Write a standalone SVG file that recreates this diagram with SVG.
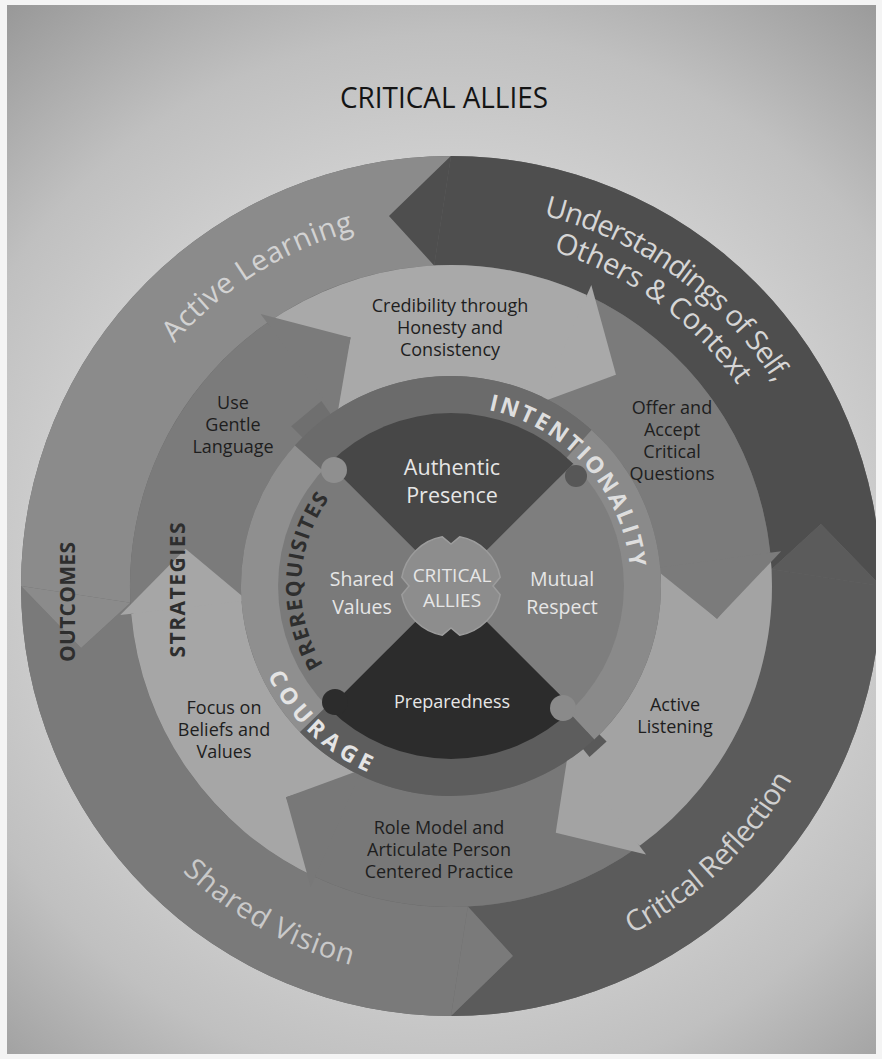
<svg xmlns="http://www.w3.org/2000/svg" width="882" height="1059" viewBox="0 0 882 1059">
<defs>
<radialGradient id="bg" gradientUnits="userSpaceOnUse" cx="451" cy="560" r="730">
<stop offset="0.5" stop-color="#d2d2d2"/>
<stop offset="0.72" stop-color="#c0c0c0"/>
<stop offset="1" stop-color="#949494"/>
</radialGradient>
<path id="pAL" d="M 132.3,402.0 A 368 368 0 0 1 425.3,218.9"/>
<path id="pU1" d="M 490.9,206.1 A 382 382 0 0 1 800.0,430.6"/>
<path id="pU2" d="M 487.6,237.9 A 350 350 0 0 1 770.7,443.6"/>
<path id="pCR" d="M 545.8,966.4 A 392 392 0 0 0 827.8,694.1"/>
<path id="pSV" d="M 115.0,787.9 A 392 392 0 0 0 457.8,977.9"/>
<path id="pINT" d="M 476.1,407.8 A 180 180 0 0 1 630.9,579.7"/>
<path id="pPRE" d="M 326.6,669.9 A 150 150 0 0 1 332.8,493.7"/>
<path id="pCOU" d="M 259.3,655.8 A 204 204 0 0 0 388.0,780.0"/>
</defs>
<style>
text { font-family: "Open Sans", "Noto Sans", "DejaVu Sans", sans-serif; }
.lbl { fill: #1e1e1e; font-size: 18px; text-anchor: middle; }
.inn { fill: #e6e6e6; text-anchor: middle; }
.ring { font-size: 29px; text-anchor: middle; }
.bold { font-weight: bold; }
.dark { fill: #2e2e2e; }
</style>
<rect x="0" y="0" width="882" height="1059" fill="#f4f4f4"/>
<rect x="7" y="5" width="869" height="1049" fill="url(#bg)"/>
<text x="444" y="108" font-size="29" fill="#141414" text-anchor="middle" textLength="208" lengthAdjust="spacingAndGlyphs">CRITICAL ALLIES</text>

<circle cx="451" cy="586" r="430" fill="#6a6a6a"/>

<g id="outcomes-ring">
<g id="node-understandings">
<path d="M 881,586 A 430 430 0 0 0 451,156 L 434.2,265.4 A 321 321 0 0 1 771.6,569.2 L 820.9,524.1 Z" fill="#4e4e4e"/>
</g>
<g id="node-active-learning">
<path d="M 451,156 A 430 430 0 0 0 21,586 L 130.4,602.8 A 321 321 0 0 1 434.2,265.4 L 389.1,216.1 Z" fill="#8b8b8b"/>
</g>
<g id="node-shared-vision">
<path d="M 21,586 A 430 430 0 0 0 451,1016 L 467.8,906.6 A 321 321 0 0 1 130.4,602.8 L 81.1,647.9 Z" fill="#7a7a7a"/>
</g>
<g id="node-critical-reflection">
<path d="M 451,1016 A 430 430 0 0 0 881,586 L 771.6,569.2 A 321 321 0 0 1 467.8,906.6 L 512.9,955.9 Z" fill="#5b5b5b"/>
</g>
<g id="outcome-heads">
<polygon points="451,156 389.1,216.1 434.2,265.4" fill="#4e4e4e"/>
<polygon points="21,586 81.1,647.9 130.4,602.8" fill="#8b8b8b"/>
<polygon points="451,1016 512.9,955.9 467.8,906.6" fill="#7a7a7a"/>
<polygon points="881,586 820.9,524.1 771.6,569.2" fill="#5b5b5b"/>
</g>
</g>

<g id="strategies-ring">
<g id="node-credibility"><path d="M 266.9,323.1 A 321 321 0 0 1 586.7,295.1 L 576.8,349.4 L 543.1,397.3 A 210 210 0 0 0 333.6,411.9 L 350.6,337.5 Z" fill="#a9a9a9"/></g>
<g id="node-offer"><path d="M 586.7,295.1 A 321 321 0 0 1 770.2,552.4 L 718.6,572.0 L 660.2,567.7 A 210 210 0 0 0 543.1,397.3 L 616.0,374.8 Z" fill="#7b7b7b"/></g>
<g id="node-active-listening"><path d="M 770.2,552.4 A 321 321 0 0 1 639.7,845.7 L 597.0,810.8 L 571.5,758.0 A 210 210 0 0 0 660.2,567.7 L 717.0,618.7 Z" fill="#a3a3a3"/></g>
<g id="node-role-model"><path d="M 639.7,845.7 A 321 321 0 0 1 315.3,876.9 L 325.2,822.6 L 358.9,774.7 A 210 210 0 0 0 571.5,758.0 L 555.7,832.7 Z" fill="#787878"/></g>
<g id="node-focus"><path d="M 315.3,876.9 A 321 321 0 0 1 131.2,614.0 L 183.2,595.4 L 241.5,600.6 A 210 210 0 0 0 358.9,774.7 L 286.0,797.2 Z" fill="#a6a6a6"/></g>
<g id="node-gentle"><path d="M 131.2,614.0 A 321 321 0 0 1 266.9,323.1 L 309.0,358.7 L 333.6,411.9 A 210 210 0 0 0 241.5,600.6 L 185.6,548.7 Z" fill="#7b7b7b"/></g>
<g id="strategy-heads">
<polygon points="591.3,285.1 616.0,374.8 540.4,402.6" fill="#a9a9a9"/>
<polygon points="781.2,551.3 717.0,618.7 654.2,568.2" fill="#7b7b7b"/>
<polygon points="646.1,854.6 555.7,832.7 568.0,753.1" fill="#a3a3a3"/>
<polygon points="310.7,886.9 286.0,797.2 361.6,769.4" fill="#787878"/>
<polygon points="120.3,614.9 185.6,548.7 247.5,600.6" fill="#a6a6a6"/>
<polygon points="260.6,314.0 350.6,337.5 336.9,416.9" fill="#7b7b7b"/>
</g>
</g>

<g id="inner-ring">
<polygon points="291.2,426.2 321.4,400.9 333.4,418.1 306.0,441.0" fill="#6f6f6f"/>
<polygon points="592.4,727.4 606.6,741.6 589.5,757.0 576.9,741.4" fill="#595959"/>
<g id="node-intentionality">
<path d="M 294.9,445.5 A 210 210 0 0 1 591.5,429.9 L 566.1,458.2 A 172 172 0 0 0 323.2,470.9 Z" fill="#6b6b6b"/>
<path d="M 591.5,429.9 A 210 210 0 0 1 594.2,739.6 L 568.3,711.8 A 172 172 0 0 0 566.1,458.2 Z" fill="#8a8a8a"/>
</g>
<g id="node-courage">
<path d="M 594.2,739.6 A 210 210 0 0 1 299.9,731.9 L 327.3,705.5 A 172 172 0 0 0 568.3,711.8 Z" fill="#5d5d5d"/>
</g>
<g id="node-prerequisites">
<path d="M 299.9,731.9 A 210 210 0 0 1 294.9,445.5 L 323.2,470.9 A 172 172 0 0 0 327.3,705.5 Z" fill="#8f8f8f"/>
</g>
</g>

<g id="core">
<g id="node-authentic"><path d="M 451,586 L 328.7,463.7 A 173 173 0 0 1 573.3,463.7 Z" fill="#474747"/></g>
<g id="node-mutual"><path d="M 451,586 L 573.3,463.7 A 173 173 0 0 1 573.3,708.3 Z" fill="#7e7e7e"/></g>
<g id="node-preparedness"><path d="M 451,586 L 573.3,708.3 A 173 173 0 0 1 328.7,708.3 Z" fill="#2c2c2c"/></g>
<g id="node-shared-values"><path d="M 451,586 L 328.7,708.3 A 173 173 0 0 1 328.7,463.7 Z" fill="#7a7a7a"/></g>
<circle cx="334" cy="470" r="13" fill="#8f8f8f"/>
<circle cx="563" cy="708" r="13" fill="#8a8a8a"/>
<circle cx="335" cy="702" r="13" fill="#2c2c2c"/>
<circle cx="576" cy="476" r="11" fill="#575757"/>
<g id="node-center">
<path d="M 459.7,536.8 A 50 50 0 0 1 500.2,577.3 L 493,586 L 500.2,594.7 A 50 50 0 0 1 459.7,635.2 L 451,628 L 442.3,635.2 A 50 50 0 0 1 401.8,594.7 L 409,586 L 401.8,577.3 A 50 50 0 0 1 442.3,536.8 L 451,544 Z" fill="#8d8d8d" stroke="#9c9c9c" stroke-width="1.5"/>
<text class="inn" x="452" y="582" font-size="19" fill="#dcdcdc">CRITICAL</text>
<text class="inn" x="452" y="607" font-size="19" fill="#dcdcdc">ALLIES</text>
</g>
</g>

<g id="labels">
<text class="ring" fill="#d2d2d2"><textPath href="#pAL" startOffset="50%" textLength="215" lengthAdjust="spacing">Active Learning</textPath></text>
<text class="ring" fill="#d6d6d6" font-size="28"><textPath href="#pU1" startOffset="50%" textLength="293" lengthAdjust="spacing">Understandings of Self,</textPath></text>
<text class="ring" fill="#d6d6d6" font-size="28"><textPath href="#pU2" startOffset="50%" textLength="232" lengthAdjust="spacing">Others &amp; Context</textPath></text>
<text class="ring" fill="#d0d0d0" font-size="28"><textPath href="#pCR" startOffset="50%" textLength="226" lengthAdjust="spacing">Critical Reflection</textPath></text>
<text class="ring" fill="#c9c9c9"><textPath href="#pSV" startOffset="50%" textLength="195" lengthAdjust="spacing">Shared Vision</textPath></text>

<text class="bold dark" font-size="21" text-anchor="middle" transform="translate(75,602) rotate(-90)" textLength="120" lengthAdjust="spacing">OUTCOMES</text>
<text class="bold dark" font-size="21" text-anchor="middle" transform="translate(185,590) rotate(-90)" textLength="135" lengthAdjust="spacing">STRATEGIES</text>

<text class="bold" font-size="23" fill="#dedede" text-anchor="middle"><textPath href="#pINT" startOffset="50%" textLength="226" lengthAdjust="spacing">INTENTIONALITY</textPath></text>
<text class="bold dark" font-size="21" text-anchor="middle"><textPath href="#pPRE" startOffset="50%" textLength="176" lengthAdjust="spacing">PREREQUISITES</textPath></text>
<text class="bold" font-size="23" fill="#e4e4e4" text-anchor="middle"><textPath href="#pCOU" startOffset="50%" textLength="142" lengthAdjust="spacing">COURAGE</textPath></text>

<text class="lbl"><tspan x="450" y="312">Credibility through</tspan><tspan x="450" y="334">Honesty and</tspan><tspan x="450" y="356">Consistency</tspan></text>
<text class="lbl"><tspan x="233" y="409">Use</tspan><tspan x="233" y="431">Gentle</tspan><tspan x="233" y="453">Language</tspan></text>
<text class="lbl"><tspan x="672" y="414">Offer and</tspan><tspan x="672" y="436">Accept</tspan><tspan x="672" y="458">Critical</tspan><tspan x="672" y="480">Questions</tspan></text>
<text class="lbl"><tspan x="675" y="711">Active</tspan><tspan x="675" y="733">Listening</tspan></text>
<text class="lbl"><tspan x="439" y="834">Role Model and</tspan><tspan x="439" y="856">Articulate Person</tspan><tspan x="439" y="878">Centered Practice</tspan></text>
<text class="lbl"><tspan x="224" y="714">Focus on</tspan><tspan x="224" y="736">Beliefs and</tspan><tspan x="224" y="758">Values</tspan></text>

<text class="inn" font-size="21.5"><tspan x="452" y="475">Authentic</tspan><tspan x="452" y="503">Presence</tspan></text>
<text class="inn" font-size="19.5"><tspan x="362" y="586">Shared</tspan><tspan x="362" y="614">Values</tspan></text>
<text class="inn" font-size="19.5"><tspan x="562" y="586">Mutual</tspan><tspan x="562" y="614">Respect</tspan></text>
<text class="inn" font-size="18" x="452" y="708">Preparedness</text>
</g>
<rect x="876" y="0" width="6" height="1059" fill="#f4f4f4"/>
</svg>
